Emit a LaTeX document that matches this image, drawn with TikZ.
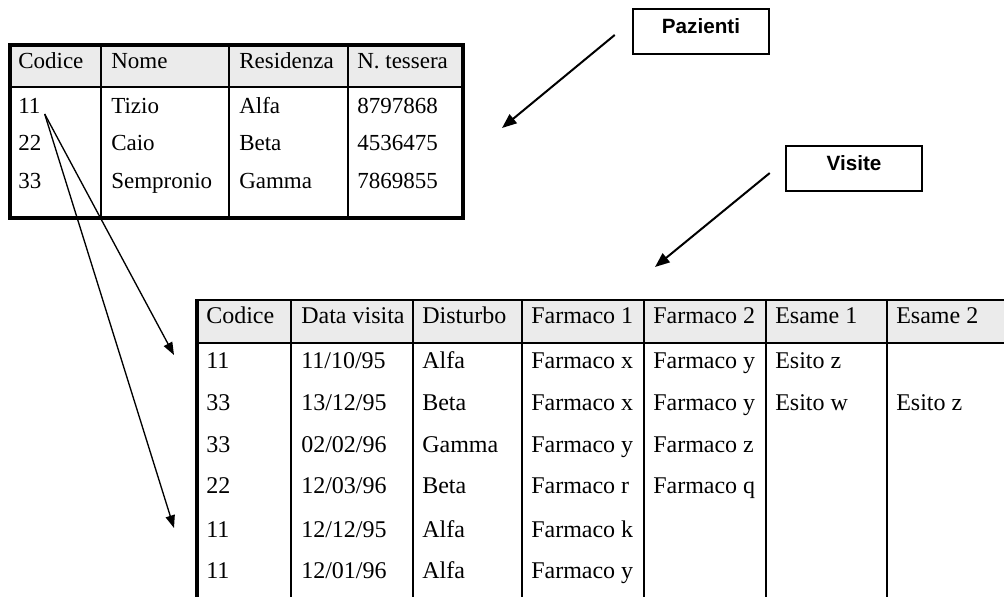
\documentclass[tikz,border=0pt]{standalone}
\usepackage{fontspec}
\setmainfont{Liberation Serif}
\newfontfamily\labelfont{Liberation Sans}
\usetikzlibrary{arrows.meta}
\definecolor{headgray}{RGB}{235,235,235}

\begin{document}
\begin{tikzpicture}[x=0.75pt,y=-0.75pt,>={Triangle[length=9.5pt,width=7pt]}]
	\tikzstyle{pcell}=[anchor=base west,inner sep=0pt,font=\fontsize{17.25}{20}\selectfont]
	\tikzstyle{vcell}=[anchor=base west,inner sep=0pt,font=\fontsize{18}{21}\selectfont]
	\tikzstyle{tag}=[draw,line width=1.9pt,minimum width=102pt,minimum height=33.75pt,inner sep=0pt,
		text height=10.5pt,text depth=8.25pt,font=\labelfont\bfseries\fontsize{15.5}{18}\selectfont]
	\tikzstyle{grid}=[line width=1.5pt]
	\tikzstyle{frame}=[line width=2.6pt]
	\tikzstyle{link}=[->,line width=1pt]
	\tikzstyle{pointer}=[->,line width=1.5pt,>={Triangle[length=11pt,width=8.5pt]}]

	\useasboundingbox (0,0) rectangle (1004,597);

	% tabella Pazienti
	\fill[headgray] (10,45) rectangle (463,87);
	\draw[grid] (10,87) -- (463,87)
		(101,45) -- (101,218) (229,45) -- (229,218) (348,45) -- (348,218);
	\draw[frame] (10,45) rectangle (463,218);

	\node[pcell] (P_0_1) at (18,68)  {Codice};
	\node[pcell] (P_0_2) at (111,68) {Nome};
	\node[pcell] (P_0_3) at (239,68) {Residenza};
	\node[pcell] (P_0_4) at (357,68) {N. tessera};

	\node[pcell] (P_1_1) at (18,113)  {11};
	\node[pcell] (P_1_2) at (111,113) {Tizio};
	\node[pcell] (P_1_3) at (239,113) {Alfa};
	\node[pcell] (P_1_4) at (357,113) {8797868};

	\node[pcell] (P_2_1) at (18,150)  {22};
	\node[pcell] (P_2_2) at (111,150) {Caio};
	\node[pcell] (P_2_3) at (239,150) {Beta};
	\node[pcell] (P_2_4) at (357,150) {4536475};

	\node[pcell] (P_3_1) at (18,188)  {33};
	\node[pcell] (P_3_2) at (111,188) {Sempronio};
	\node[pcell] (P_3_3) at (239,188) {Gamma};
	\node[pcell] (P_3_4) at (357,188) {7869855};

	% tabella Visite
	\fill[headgray] (197,300) rectangle (1004,343);
	\draw[grid] (197,300) -- (1004,300) (197,343) -- (1004,343)
		(291,300) -- (291,597) (413,300) -- (413,597) (522,300) -- (522,597)
		(644,300) -- (644,597) (766,300) -- (766,597) (887,300) -- (887,597);
	\draw[line width=3pt] (197,299) -- (197,597);

	\node[vcell] (V_0_1) at (206,323) {Codice};
	\node[vcell] (V_0_2) at (301,323) {Data visita};
	\node[vcell] (V_0_3) at (422,323) {Disturbo};
	\node[vcell] (V_0_4) at (531,323) {Farmaco 1};
	\node[vcell] (V_0_5) at (653,323) {Farmaco 2};
	\node[vcell] (V_0_6) at (775,323) {Esame 1};
	\node[vcell] (V_0_7) at (896,323) {Esame 2};

	\node[vcell] (V_1_1) at (206,368) {11};
	\node[vcell] (V_1_2) at (301,368) {11/10/95};
	\node[vcell] (V_1_3) at (422,368) {Alfa};
	\node[vcell] (V_1_4) at (531,368) {Farmaco x};
	\node[vcell] (V_1_5) at (653,368) {Farmaco y};
	\node[vcell] (V_1_6) at (775,368) {Esito z};

	\node[vcell] (V_2_1) at (206,410) {33};
	\node[vcell] (V_2_2) at (301,410) {13/12/95};
	\node[vcell] (V_2_3) at (422,410) {Beta};
	\node[vcell] (V_2_4) at (531,410) {Farmaco x};
	\node[vcell] (V_2_5) at (653,410) {Farmaco y};
	\node[vcell] (V_2_6) at (775,410) {Esito w};
	\node[vcell] (V_2_7) at (896,410) {Esito z};

	\node[vcell] (V_3_1) at (206,452) {33};
	\node[vcell] (V_3_2) at (301,452) {02/02/96};
	\node[vcell] (V_3_3) at (422,452) {Gamma};
	\node[vcell] (V_3_4) at (531,452) {Farmaco y};
	\node[vcell] (V_3_5) at (653,452) {Farmaco z};

	\node[vcell] (V_4_1) at (206,493) {22};
	\node[vcell] (V_4_2) at (301,493) {12/03/96};
	\node[vcell] (V_4_3) at (422,493) {Beta};
	\node[vcell] (V_4_4) at (531,493) {Farmaco r};
	\node[vcell] (V_4_5) at (653,493) {Farmaco q};

	\node[vcell] (V_5_1) at (206,537) {11};
	\node[vcell] (V_5_2) at (301,537) {12/12/95};
	\node[vcell] (V_5_3) at (422,537) {Alfa};
	\node[vcell] (V_5_4) at (531,537) {Farmaco k};

	\node[vcell] (V_6_1) at (206,578) {11};
	\node[vcell] (V_6_2) at (301,578) {12/01/96};
	\node[vcell] (V_6_3) at (422,578) {Alfa};
	\node[vcell] (V_6_4) at (531,578) {Farmaco y};

	% etichette
	\node[tag] (paz) at (701,31.5)  {Pazienti};
	\node[tag] (vis) at (854,168.5) {Visite};

	\coordinate (paz_to) at (502,128);
	\coordinate (vis_to) at (655,267);
	\coordinate (V_in1) at (174,355);
	\coordinate (V_in2) at (174,528);

	\draw[pointer] ([xshift=-12.75pt,yshift=-2.6pt]paz.west) -- (paz_to);
	\draw[pointer] ([xshift=-11.25pt,yshift=-3.4pt]vis.west) -- (vis_to);
	\draw[link] ([xshift=3pt,yshift=-0.75pt]P_1_1.base east) -- (V_in1);
	\draw[link] ([xshift=3pt,yshift=-0.75pt]P_1_1.base east) -- (V_in2);
\end{tikzpicture}
\end{document}
